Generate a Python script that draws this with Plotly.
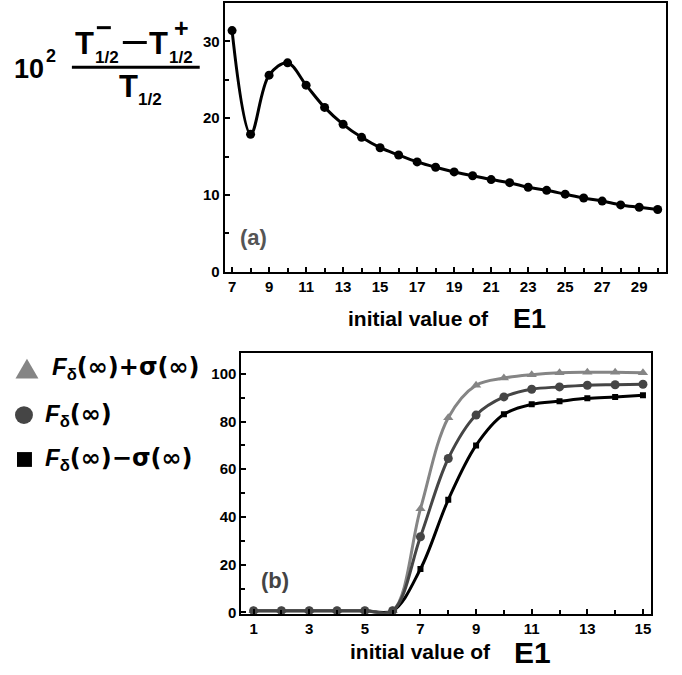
import plotly.graph_objects as go

W, H = 682, 675
def px(x): return x / W
def py(y): return 1 - y / H

FONT = "Liberation Sans, Arial, sans-serif"

# ---- data (a) ----
e1_a = [7, 8, 9, 10, 11, 12, 13, 14, 15, 16, 17, 18, 19, 20, 21, 22, 23, 24, 25, 26, 27, 28, 29, 30]
asym_a = [31.4, 17.9, 25.6, 27.2, 24.3, 21.4, 19.2, 17.5, 16.15, 15.2, 14.3, 13.6, 13.0, 12.5,
          12.0, 11.6, 11.0, 10.6, 10.1, 9.6, 9.2, 8.7, 8.4, 8.1]

# ---- data (b) ----
e1_b = [1, 2, 3, 4, 5, 6, 7, 8, 9, 10, 11, 12, 13, 14, 15]
f_plus = [0.7, 0.7, 0.7, 0.7, 0.7, 0.7, 43.4, 81.6, 95.2, 98.2, 99.6, 100.4, 100.6, 100.6, 100.4]
f_mean = [0.7, 0.7, 0.7, 0.7, 0.7, 0.7, 31.7, 64.5, 82.7, 90.3, 93.5, 94.5, 95.2, 95.4, 95.6]
f_minus = [0.7, 0.7, 0.7, 0.7, 0.7, 0.7, 18.2, 47.2, 70.0, 83.0, 87.2, 88.5, 89.7, 90.3, 91.0]

C_PLUS, C_MEAN, C_MINUS = "#858585", "#454545", "#000000"

fig = go.Figure()

fig.add_trace(go.Scatter(x=e1_a, y=asym_a, mode="lines+markers",
                         line=dict(color="black", width=3, shape="spline", smoothing=1),
                         marker=dict(color="black", size=9, symbol="circle"),
                         xaxis="x", yaxis="y", showlegend=False))

fig.add_trace(go.Scatter(x=e1_b, y=f_minus, mode="lines+markers",
                         line=dict(color=C_MINUS, width=3, shape="spline", smoothing=1),
                         marker=dict(color=C_MINUS, size=6, symbol="square"),
                         xaxis="x2", yaxis="y2", showlegend=False))
fig.add_trace(go.Scatter(x=e1_b, y=f_plus, mode="lines+markers",
                         line=dict(color=C_PLUS, width=3, shape="spline", smoothing=1),
                         marker=dict(color=C_PLUS, size=9, symbol="triangle-up"),
                         xaxis="x2", yaxis="y2", showlegend=False))
fig.add_trace(go.Scatter(x=e1_b, y=f_mean, mode="lines+markers",
                         line=dict(color=C_MEAN, width=3, shape="spline", smoothing=1),
                         marker=dict(color=C_MEAN, size=9, symbol="circle"),
                         xaxis="x2", yaxis="y2", showlegend=False))

tickfont = dict(family=FONT, size=15, color="black", weight="bold")
axcommon = dict(showline=True, linecolor="black", linewidth=2, mirror=True,
                showgrid=False, zeroline=False, ticks="inside", ticklen=5,
                tickwidth=1.5, tickcolor="black", tickfont=tickfont)

fig.update_layout(
    width=W, height=H, margin=dict(l=0, r=0, t=0, b=0),
    paper_bgcolor="white", plot_bgcolor="white",
    xaxis=dict(domain=[px(225), px(667)], range=[6.6, 30.45], anchor="y",
               tickmode="linear", tick0=7, dtick=2,
               minor=dict(tick0=7, dtick=1, ticks="inside", ticklen=4, tickwidth=1.5, tickcolor="black"),
               **axcommon),
    yaxis=dict(domain=[py(275), py(3)], range=[0, 35], anchor="x",
               tickmode="linear", tick0=0, dtick=10,
               minor=dict(tick0=0, dtick=5, ticks="inside", ticklen=4, tickwidth=1.5, tickcolor="black"),
               **axcommon),
    xaxis2=dict(domain=[px(241.7), px(651.7)], range=[0.56, 15.28], anchor="y2",
                tickmode="linear", tick0=1, dtick=2,
                minor=dict(tick0=1, dtick=1, ticks="inside", ticklen=4, tickwidth=1.5, tickcolor="black"),
                **axcommon),
    yaxis2=dict(domain=[py(621), py(357)], range=[-0.5, 108.8], anchor="x2",
                tickmode="linear", tick0=0, dtick=20,
                minor=dict(tick0=0, dtick=10, ticks="inside", ticklen=4, tickwidth=1.5, tickcolor="black"),
                **axcommon),
)

ann = []
def text(x, y, t, size, bold=True, color="black", xanchor="center"):
    ann.append(dict(x=px(x), y=py(y), xref="paper", yref="paper", text=t, showarrow=False,
                    xanchor=xanchor, yanchor="middle",
                    font=dict(family=FONT, size=size, color=color,
                              weight="bold" if bold else "normal")))

# y-label of (a)
text(29, 70, "10", 27)
text(51, 57, "2", 18)
text(85, 44, "T", 31)
text(107, 58, "1/2", 17)
text(159, 44, "T", 31)
text(181, 58, "1/2", 17)
text(182, 28, "+", 25)
text(129, 88, "T", 31)
text(150, 101, "1/2", 17)

shapes = []
def hline(x0, x1, y, w=3, color="black"):
    shapes.append(dict(type="line", xref="paper", yref="paper",
                       x0=px(x0), x1=px(x1), y0=py(y), y1=py(y),
                       line=dict(color=color, width=w)))
hline(72, 200, 68)
hline(123, 147, 43)
hline(97, 111, 28)

# panel labels
text(254, 240, "(a)", 22, color="#555555")
text(275, 587, "(b)", 22, color="#444444")

# x titles
text(492, 322, "initial value of", 21, xanchor="right")
text(512, 323, "E1", 27, xanchor="left")
text(494, 659, "initial value of", 21, xanchor="right")
text(513, 660, "E1", 30, xanchor="left")

# legend texts
DJ = "<span style='font-family:DejaVu Sans'>"
text(50, 373, f"<i>F</i><sub>δ</sub>{DJ}(∞)+σ(∞)</span>", 24, bold=True, xanchor="left")
text(43, 420, f"<i>F</i><sub>δ</sub>{DJ}(∞)</span>", 24, bold=True, xanchor="left")
text(43, 465, f"<i>F</i><sub>δ</sub>{DJ}(∞)−σ(∞)</span>", 24, bold=True, xanchor="left")

# legend symbols
shapes.append(dict(type="path", xref="paper", yref="paper",
                   path=f"M {px(15.5)} {py(383)} L {px(38.5)} {py(383)} L {px(27)} {py(363)} Z",
                   fillcolor=C_PLUS, line=dict(width=0)))
shapes.append(dict(type="circle", xref="paper", yref="paper",
                   x0=px(15), x1=px(33), y0=py(429), y1=py(411),
                   fillcolor=C_MEAN, line=dict(width=0)))
shapes.append(dict(type="rect", xref="paper", yref="paper",
                   x0=px(17), x1=px(32), y0=py(472.5), y1=py(457.5),
                   fillcolor=C_MINUS, line=dict(width=0)))

fig.update_layout(annotations=ann, shapes=shapes)
fig.write_html("out.html")
